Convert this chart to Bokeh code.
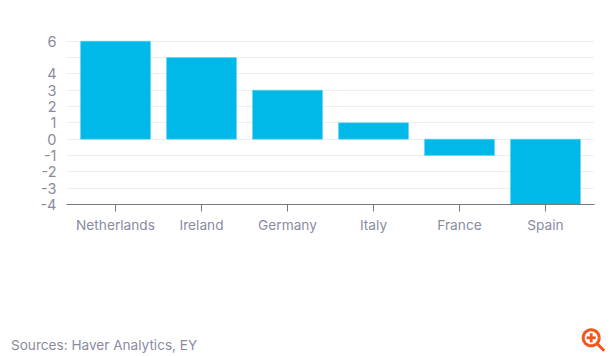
import numpy as np
from bokeh.embed import file_html
from bokeh.resources import INLINE
from bokeh.plotting import figure
from bokeh.layouts import column
from bokeh.core.properties import value
from bokeh.models import FixedTicker, Range1d, FactorRange

categories = ["Netherlands", "Ireland", "Germany", "Italy", "France", "Spain"]
values = [6, 5, 3, 1, -1, -4]
y_ticks = [-4, -3, -2, -1, 0, 1, 2, 3, 4, 5, 6]
y_labels = {-4: "-4", -3: "-3", -2: "-2", -1: "-1", 0: "0", 1: "1", 2: "2", 3: "3", 4: "4", 5: "", 6: "6"}
source_text = "Sources: Haver Analytics, EY"

FONT = "Inter"
GREY = "#8b8b9f"
TOP_H = 240

p = figure(width=610, height=TOP_H,
           x_range=FactorRange(factors=categories, range_padding=0.07, range_padding_units="absolute"),
           y_range=Range1d(-4, 6.1),
           output_backend="svg", toolbar_location=None, frame_align=False,
           min_border_left=66, min_border_right=16, min_border_top=39, min_border_bottom=36)
p.outline_line_color = None
p.background_fill_color = "white"
p.border_fill_color = "white"

p.vbar(x=categories, top=values, bottom=0, width=0.814, color="#00b9e8",
       line_color="#5fd3ee", line_width=0.5)

p.xgrid.visible = False
p.ygrid.ticker = FixedTicker(ticks=y_ticks)
p.ygrid.grid_line_color = "#eeeef1"
p.ygrid.grid_line_width = 1
p.ygrid.level = "underlay"

p.yaxis.ticker = FixedTicker(ticks=y_ticks)
p.yaxis.major_label_overrides = y_labels
p.yaxis.axis_line_color = None
p.yaxis.major_tick_line_color = None
p.yaxis.minor_tick_line_color = None
p.yaxis.major_label_text_font = FONT
p.yaxis.major_label_text_font_size = "14.5px"
p.yaxis.major_label_text_color = GREY
p.yaxis.major_label_standoff = 4

p.xaxis.axis_line_color = "#77777f"
p.xaxis.axis_line_width = 1
p.xaxis.major_tick_line_color = "#77777f"
p.xaxis.major_tick_in = 0
p.xaxis.major_tick_out = 7
p.xaxis.minor_tick_line_color = None
p.xaxis.major_label_text_font = FONT
p.xaxis.major_label_text_font_size = "13.7px"
p.xaxis.major_label_text_color = GREY
p.xaxis.major_label_standoff = 5

# footer strip: source note and the zoom icon, in page pixels
q = figure(width=610, height=356 - TOP_H, x_range=Range1d(0, 610), y_range=Range1d(356, TOP_H),
           x_axis_type=None, y_axis_type=None, output_backend="svg", toolbar_location=None,
           min_border=0, frame_align=False)
q.outline_line_color = None
q.grid.visible = False
q.border_fill_color = "white"

q.text(x=[10.5], y=[344], text=[source_text], text_font=value(FONT), text_font_size="13.6px",
       text_color=GREY, text_baseline="middle")

ICON = "#f2551d"
cx, cy, r = 590.7, 337.3, 8
t = np.linspace(0, 2*np.pi, 60)
q.line(cx + r*np.cos(t), cy + r*np.sin(t), line_color=ICON, line_width=3)
q.line([cx+6, cx+13], [cy+6, cy+13], line_color=ICON, line_width=3)
q.line([cx-4.5, cx+4.5], [cy, cy], line_color=ICON, line_width=2.8)
q.line([cx, cx], [cy-4.5, cy+4.5], line_color=ICON, line_width=2.8)

open("out.html", "w").write(file_html(column(p, q, spacing=0), INLINE))
